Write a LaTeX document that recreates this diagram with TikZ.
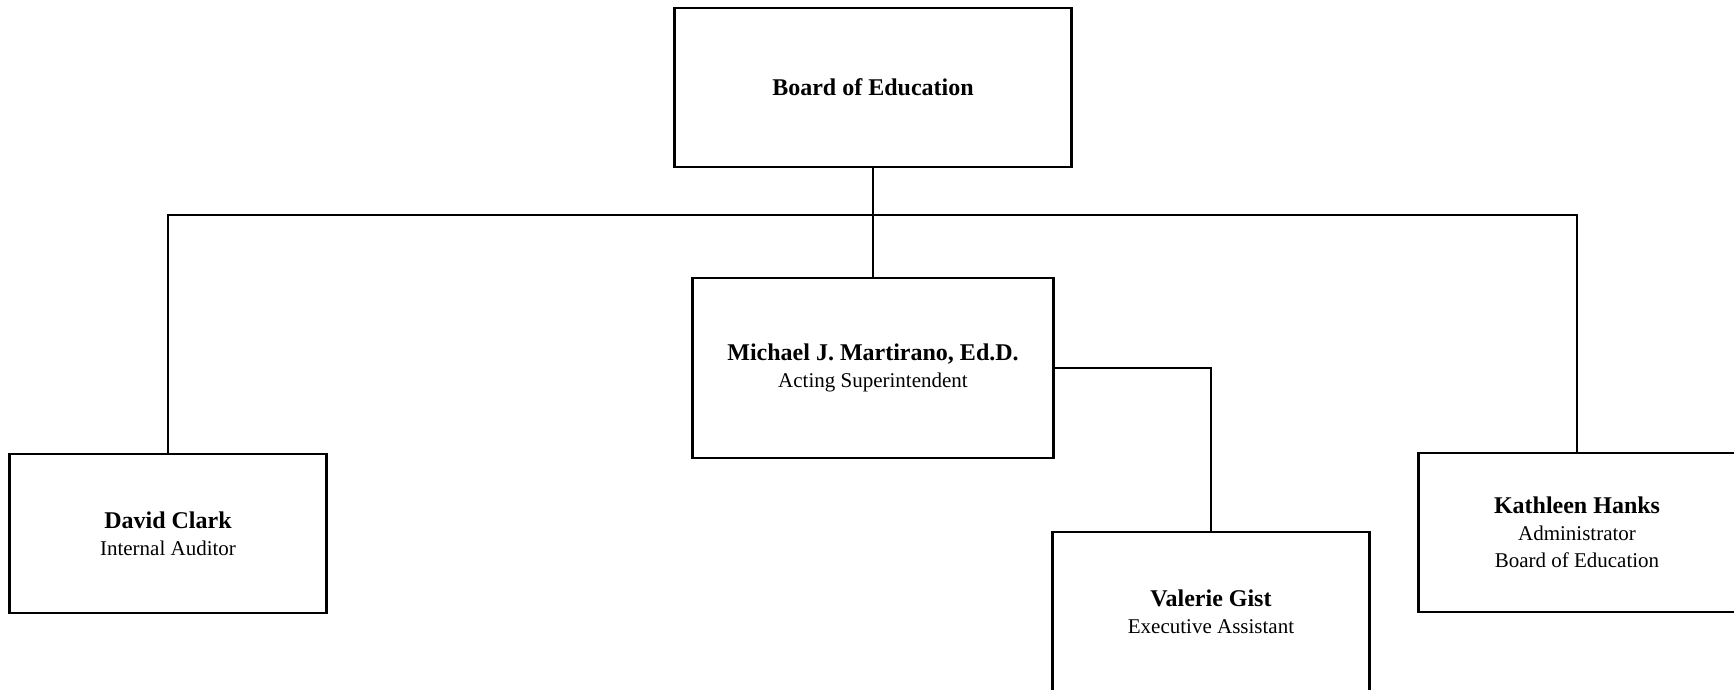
\documentclass[tikz,border=0pt]{standalone}
\usepackage{fontspec}
\setmainfont{Liberation Serif}
\begin{document}
\begin{tikzpicture}[x=1pt,y=-1pt,
  box/.style={draw,line width=2.5pt,align=center,inner sep=0pt,
    font=\fontsize{21}{27}\selectfont},
  staff/.style={box,minimum width=317pt,minimum height=159pt},
  link/.style={line width=2.5pt}]
  \useasboundingbox (0,0) rectangle (1734,689);
  \node[box,minimum width=397pt,minimum height=159pt] (board) at (873,87.5)
    {\fontsize{24}{27}\selectfont\bfseries Board of Education};
  \node[box,minimum width=361pt,minimum height=180pt] (michael) at (873,368)
    {{\fontsize{24}{27}\selectfont\bfseries Michael J. Martirano, Ed.D.}\\Acting Superintendent};
  \node[staff] (clark) at (168,533.5)
    {{\fontsize{24}{27}\selectfont\bfseries David Clark}\\Internal Auditor};
  \node[staff] (gist) at (1211,611.5)
    {{\fontsize{24}{27}\selectfont\bfseries Valerie Gist}\\Executive Assistant};
  \node[staff] (hanks) at (1577,532.5)
    {{\fontsize{24}{27}\selectfont\bfseries Kathleen Hanks}\\Administrator\\Board of Education};
  \coordinate (split) at (873,215);
  \draw[link] (board.south) -- (michael.north);
  \draw[link] (clark.north) |- (split) -| (hanks.north);
  \draw[link] (michael.east) -| (gist.north);
\end{tikzpicture}
\end{document}
